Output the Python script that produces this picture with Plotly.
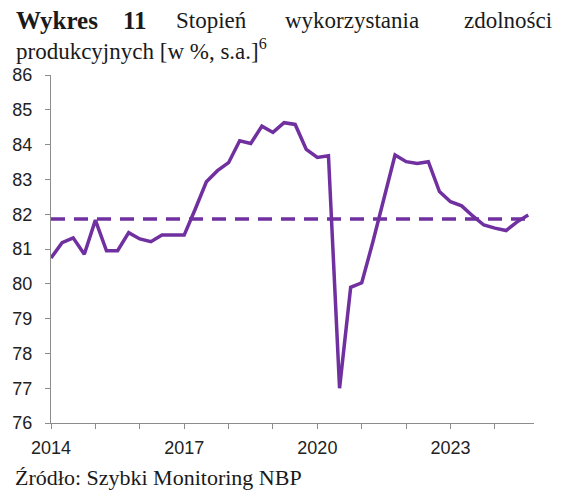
import plotly.graph_objects as go

# capacity utilisation, quarterly, 2014Q1 - 2024Q4
QUARTERS = [f"{y}Q{q}" for y in range(2014, 2025) for q in range(1, 5)]
UTIL = [80.74, 81.18, 81.32, 80.85, 81.83, 80.95, 80.95, 81.47, 81.29, 81.21, 81.40, 81.40,
        81.40, 82.15, 82.93, 83.25, 83.48, 84.11, 84.03, 84.53, 84.35, 84.63, 84.58, 83.86,
        83.63, 83.68, 77.00, 79.90, 80.03, 81.20, 82.45, 83.70, 83.51, 83.46, 83.51, 82.65,
        82.36, 82.24, 81.95, 81.69, 81.60, 81.53, 81.78, 81.98]
AVG = 81.86

YEAR_TICKS = [2014, 2017, 2020, 2023]
YEAR_LABELS = ["2014", "2017", "2020", "2023"]

x = [int(s[:4]) + (int(s[-1]) - 1) / 4 for s in QUARTERS]

PURPLE = "#7030A0"
AXIS = "#8c8c8c"

fig = go.Figure()
fig.add_trace(go.Scatter(x=[x[0], x[-1]], y=[AVG, AVG], mode="lines",
                         line=dict(color=PURPLE, width=3.5, dash="14px,9px"),
                         hoverinfo="skip"))
fig.add_trace(go.Scatter(x=x, y=UTIL, mode="lines",
                         line=dict(color=PURPLE, width=3.5)))

# page body has an 8px margin, so the figure is drawn 8px smaller and offset
OFF = 8
W, H = 562 - OFF, 490 - OFF
L, R, T, B = 51 - OFF, 28, 75 - OFF, 67
pw, ph = W - L - R, H - T - B


def px(xp, yp):
    # reference-picture pixels -> paper coords
    return (xp - OFF - L) / pw, (H - B - (yp - OFF)) / ph


serif = dict(family="Liberation Serif, Times New Roman, serif", size=22, color="#1a1a1a")
title = dict(serif, size=23)
bold = dict(serif, size=25)
anns = []
# justified first title line: one annotation per word
for txt, xp, anchor, f in [("<b>Wykres</b>", 14, "left", bold), ("<b>11</b>", 121, "left", bold),
                           ("Stopień", 174, "left", title), ("wykorzystania", 283, "left", title),
                           ("zdolności", 554, "right", title)]:
    ax, ay = px(xp, 20)
    anns.append(dict(text=txt, x=ax, y=ay, xref="paper", yref="paper", xanchor=anchor,
                     yanchor="middle", showarrow=False, font=f))
ax, ay = px(14, 49)
anns.append(dict(text="produkcyjnych [w %, s.a.]<sup>6</sup>", x=ax, y=ay, xref="paper",
                 yref="paper", xanchor="left", yanchor="middle", showarrow=False, font=title))
ax, ay = px(13, 477)
anns.append(dict(text="Źródło: Szybki Monitoring NBP", x=ax, y=ay, xref="paper", yref="paper",
                 xanchor="left", yanchor="middle", showarrow=False, font=serif))

tickfont = dict(family="Liberation Sans Narrow, Arial Narrow, Liberation Sans, Arial, sans-serif",
                size=18, color="#222222")

fig.update_layout(
    width=W, height=H, margin=dict(l=L, r=R, t=T, b=B),
    paper_bgcolor="white", plot_bgcolor="white", showlegend=False,
    annotations=anns,
    xaxis=dict(range=[2014, 2024.88], tickvals=YEAR_TICKS, ticktext=YEAR_LABELS,
               minor=dict(dtick=1, tick0=2014, ticks="outside", ticklen=5, tickcolor=AXIS,
                          showgrid=False),
               showgrid=False, zeroline=False, showline=True, linecolor=AXIS, linewidth=1,
               ticks="outside", ticklen=5, tickcolor=AXIS, tickfont=tickfont,
               ticklabelstandoff=3, automargin=False),
    yaxis=dict(range=[76, 86], dtick=1, showgrid=False, zeroline=False, showline=True,
               linecolor=AXIS, linewidth=1, ticks="outside", ticklen=5, tickcolor=AXIS,
               tickfont=tickfont, ticklabelstandoff=9, automargin=False),
)

fig.write_html("out.html")
